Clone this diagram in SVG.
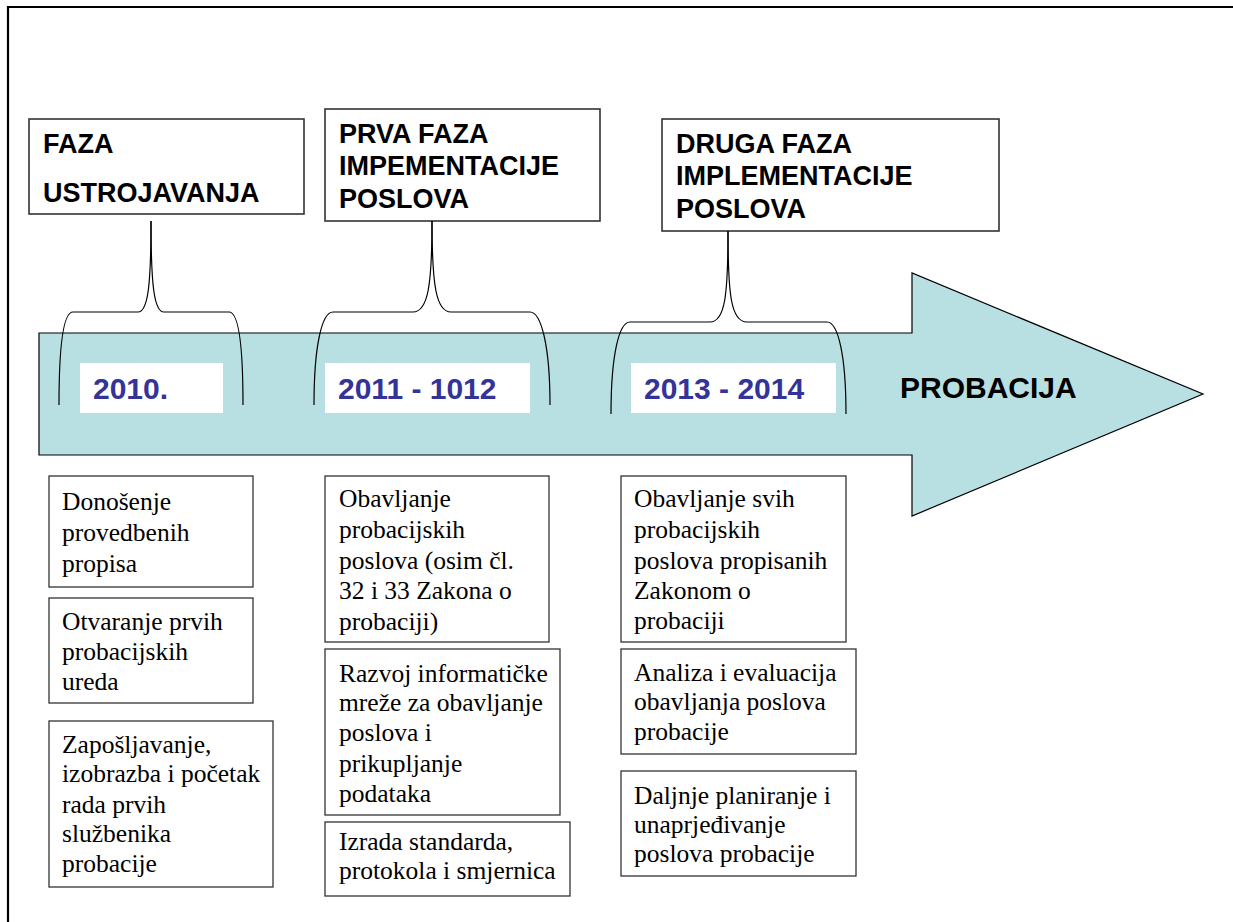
<svg xmlns="http://www.w3.org/2000/svg" width="1233" height="922" viewBox="0 0 1233 922">
<style>
.frame{fill:none;stroke:#000;stroke-width:2.2}
.tbox{fill:#fff;stroke:#333;stroke-width:1.6}
.ttl{font-family:"Liberation Sans",Arial,sans-serif;font-weight:bold;font-size:27px;fill:#000}
.ybox{fill:#fff;stroke:none}
.yr{font-family:"Liberation Sans",Arial,sans-serif;font-weight:bold;font-size:30px;fill:#333399}
.prob{font-family:"Liberation Sans",Arial,sans-serif;font-weight:bold;font-size:30px;fill:#000}
.bbox{fill:#fff;stroke:#333;stroke-width:1.3}
.bt{font-family:"Liberation Serif","Times New Roman",serif;font-size:25.5px;fill:#000}
.brace{fill:none;stroke:#000;stroke-width:1.2}
</style>
<rect width="1233" height="922" fill="#fff"/>
<path class="frame" d="M8,922 L8,7 L1233,7"/>

<g id="arrow">
<path d="M39,333 L912,333 L912,273 L1203,394 L912,516 L912,455 L39,455 Z" fill="#B8DFE2" stroke="#000" stroke-width="1.2"/>
<text class="prob" x="900" y="397.5">PROBACIJA</text>
</g>

<g id="phase1">
<rect class="tbox" x="29" y="119" width="275" height="95"/>
<text class="ttl" x="43" y="153">FAZA</text>
<text class="ttl" x="43" y="202">USTROJAVANJA</text>
</g>
<g id="phase2">
<rect class="tbox" x="325" y="109" width="275" height="112"/>
<text class="ttl" x="339" y="143">PRVA FAZA</text>
<text class="ttl" x="339" y="175">IMPEMENTACIJE</text>
<text class="ttl" x="339" y="207.5">POSLOVA</text>
</g>
<g id="phase3">
<rect class="tbox" x="662" y="119" width="337" height="112"/>
<text class="ttl" x="676" y="153">DRUGA FAZA</text>
<text class="ttl" x="676" y="185">IMPLEMENTACIJE</text>
<text class="ttl" x="676" y="217.5">POSLOVA</text>
</g>

<g id="connectors">
<path class="brace" d="M151,221 C151,285 148,312 138,312 L73,312 C63,312 59,345 59,405"/>
<path class="brace" d="M151,221 C151,285 154,312 164,312 L229,312 C239,312 243,345 243,405"/>
<path class="brace" d="M432,221 C432,285 428,312 413,312 L333,312 C322,312 314,345 314,405"/>
<path class="brace" d="M432,221 C432,285 436,312 451,312 L530,312 C541,312 550,345 550,405"/>
<path class="brace" d="M728,231 C728,295 725,322 710,322 L630,322 C619,322 611,355 611,414"/>
<path class="brace" d="M728,231 C728,295 731,322 747,322 L827,322 C838,322 846,355 846,414"/>
</g>

<g id="year1">
<rect class="ybox" x="80" y="363" width="143" height="50"/>
<text class="yr" x="93" y="399">2010.</text>
</g>
<g id="year2">
<rect class="ybox" x="325" y="363" width="205" height="50"/>
<text class="yr" x="338" y="399">2011 - 1012</text>
</g>
<g id="year3">
<rect class="ybox" x="631" y="363" width="205" height="50"/>
<text class="yr" x="644" y="399">2013 - 2014</text>
</g>

<g id="task1a">
<rect class="bbox" x="49" y="476" width="204" height="111"/>
<text class="bt" x="62" y="510">Donošenje</text>
<text class="bt" x="62" y="541">provedbenih</text>
<text class="bt" x="62" y="571.5">propisa</text>
</g>
<g id="task1b">
<rect class="bbox" x="49" y="598" width="204" height="105"/>
<text class="bt" x="62" y="630">Otvaranje prvih</text>
<text class="bt" x="62" y="660">probacijskih</text>
<text class="bt" x="62" y="690">ureda</text>
</g>
<g id="task1c">
<rect class="bbox" x="49" y="721" width="224" height="166"/>
<text class="bt" x="62" y="753">Zapošljavanje,</text>
<text class="bt" x="62" y="782">izobrazba i početak</text>
<text class="bt" x="62" y="812.5">rada prvih</text>
<text class="bt" x="62" y="842">službenika</text>
<text class="bt" x="62" y="872">probacije</text>
</g>

<g id="task2a">
<rect class="bbox" x="325" y="476" width="224" height="166"/>
<text class="bt" x="339" y="507">Obavljanje</text>
<text class="bt" x="339" y="537.5">probacijskih</text>
<text class="bt" x="339" y="569">poslova (osim čl.</text>
<text class="bt" x="339" y="598.5">32 i 33 Zakona o</text>
<text class="bt" x="339" y="630">probaciji)</text>
</g>
<g id="task2b">
<rect class="bbox" x="325" y="649" width="235" height="166"/>
<text class="bt" x="339" y="681.5">Razvoj informatičke</text>
<text class="bt" x="339" y="710.5">mreže za obavljanje</text>
<text class="bt" x="339" y="741">poslova i</text>
<text class="bt" x="339" y="771.5">prikupljanje</text>
<text class="bt" x="339" y="802">podataka</text>
</g>
<g id="task2c">
<rect class="bbox" x="325" y="822" width="245" height="74"/>
<text class="bt" x="339" y="850">Izrada standarda,</text>
<text class="bt" x="339" y="878.5">protokola i smjernica</text>
</g>

<g id="task3a">
<rect class="bbox" x="621" y="476" width="225" height="166"/>
<text class="bt" x="634" y="507">Obavljanje svih</text>
<text class="bt" x="634" y="537.5">probacijskih</text>
<text class="bt" x="634" y="568.5">poslova propisanih</text>
<text class="bt" x="634" y="598.5">Zakonom o</text>
<text class="bt" x="634" y="628.5">probaciji</text>
</g>
<g id="task3b">
<rect class="bbox" x="621" y="649" width="235" height="105"/>
<text class="bt" x="634" y="681">Analiza i evaluacija</text>
<text class="bt" x="634" y="710">obavljanja poslova</text>
<text class="bt" x="634" y="740">probacije</text>
</g>
<g id="task3c">
<rect class="bbox" x="621" y="771" width="235" height="105"/>
<text class="bt" x="634" y="803.5">Daljnje planiranje i</text>
<text class="bt" x="634" y="833">unaprjeđivanje</text>
<text class="bt" x="634" y="862">poslova probacije</text>
</g>
</svg>
